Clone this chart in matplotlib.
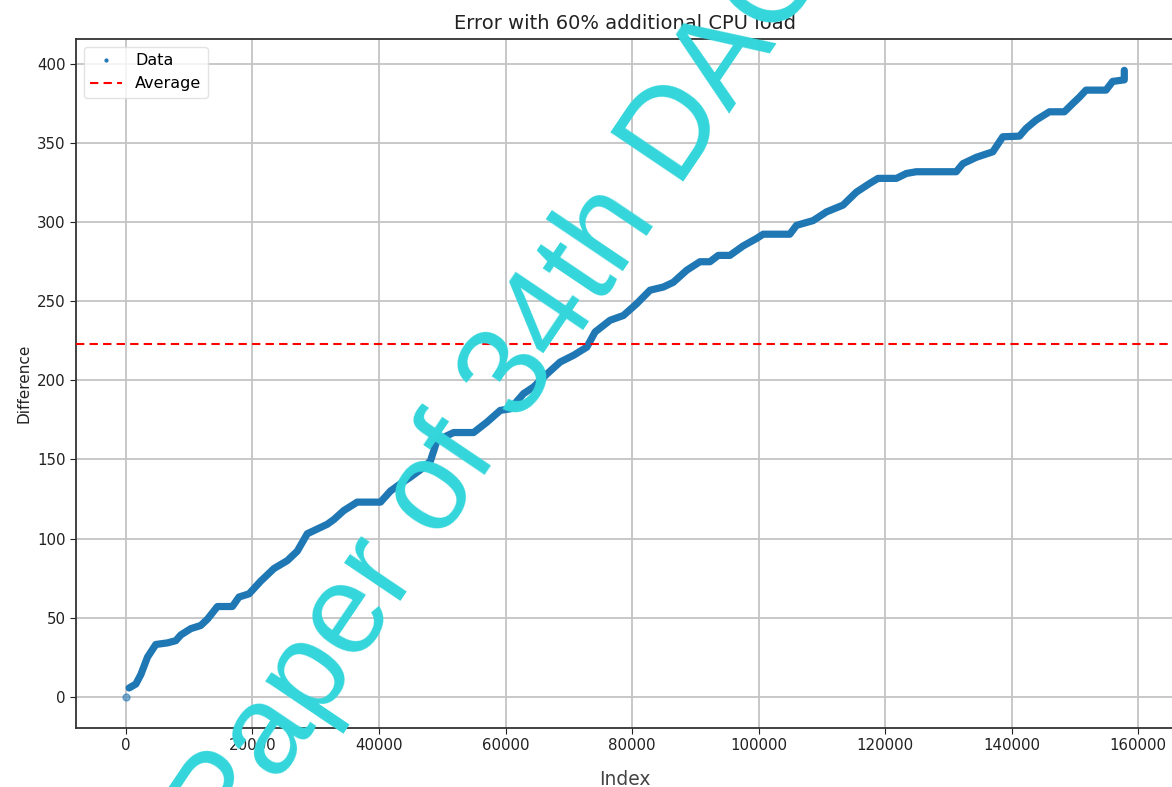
import matplotlib
matplotlib.use("Agg")
import matplotlib.pyplot as plt
from matplotlib.lines import Line2D

# Data (index, difference) along the staircase curve
index_vals = [0, 520, 1580, 2370, 3420, 4730, 6570, 7890, 8680, 10260, 11830, 12890,
              14470, 16830, 17880, 19460, 21300, 23400, 25510, 27090, 28670, 30250,
              31830, 32870, 34450, 36560, 40240, 41810, 43390, 44970, 47070, 48130,
              49180, 51810, 54960, 57070, 59170, 60750, 62850, 64430, 66540, 68640,
              70740, 72850, 74160, 76530, 78630, 80740, 82840, 84940, 86520, 88630,
              90730, 92310, 93620, 95460, 97560, 99670, 100720, 104930, 105980, 108610,
              110720, 113340, 115450, 117550, 118870, 121770, 123350, 124920, 131230,
              132280, 134390, 137010, 138590, 141220, 142280, 143860, 145960, 148320,
              149640, 150690, 151740, 154900, 155950, 157790, 157790]
diff_vals = [0, 5.5, 8, 14, 25, 33, 34, 35.4, 39, 43, 45, 49,
             57, 57, 63, 65, 73, 81, 86, 92, 103, 106,
             109, 112, 117.7, 123, 123, 130, 134.6, 138.8, 145, 149,
             162, 167, 167, 173.6, 181, 182, 191.6, 195.8, 204, 211.6,
             215.8, 221, 230.6, 238, 241, 248.5, 257, 259, 262, 269.6,
             275, 275, 279, 279, 285, 289.7, 292.4, 292.4, 298, 301,
             306.5, 310.8, 319, 324.5, 327.7, 327.7, 330.8, 331.9, 331.9,
             337, 341, 344.5, 354, 354.4, 359.3, 364.6, 369.8, 369.8,
             375, 379, 383.5, 383.5, 389, 390, 396]
average_val = 222.8

title = "Error with 60% additional CPU load"
xlabel = "Index"
ylabel = "Difference"
watermark = "Paper of 34th DAC"

fig = plt.figure(figsize=(11.72, 7.87), dpi=100)
ax = fig.add_axes([0.0648, 0.075, 0.9372, 0.8754])

blue = "#1f77b4"
ax.plot(index_vals[1:], diff_vals[1:], color=blue, lw=5.2,
        solid_joinstyle="round", solid_capstyle="round", zorder=3)
ax.plot(index_vals[:1], diff_vals[:1], "o", color=blue, ms=5, alpha=0.55, zorder=3)
ax.axhline(average_val, color="red", ls="--", lw=1.5, dashes=(4, 2.5), zorder=4)

ax.set_xlim(-7890, 165700)
ax.set_ylim(-19.8, 415.8)
ax.set_xticks([0, 20000, 40000, 60000, 80000, 100000, 120000, 140000, 160000])
ax.set_yticks([0, 50, 100, 150, 200, 250, 300, 350, 400])
ax.grid(True, color="#c4c4c4", lw=1.3)
ax.set_axisbelow(True)
ax.tick_params(labelsize=10.8, colors="#222222", length=4)
for s in ax.spines.values():
    s.set_linewidth(1.3)
    s.set_color("#333333")

ax.set_title(title, fontsize=14, color="#222222", pad=7)
ax.set_xlabel(xlabel, fontsize=13.5, color="#444444", labelpad=12)
ax.set_ylabel(ylabel, fontsize=11, color="#222222")

handles = [Line2D([], [], marker=".", ls="none", color=blue, ms=4),
           Line2D([], [], color="red", ls="--", lw=1.5, dashes=(4, 2.5))]
ax.legend(handles, ["Data", "Average"], loc="upper left", fontsize=11.5,
          framealpha=0.8, edgecolor="#dddddd")

fig.text(0.4513, 0.478, watermark, rotation=56, rotation_mode="anchor",
         ha="center", va="baseline", fontsize=92, color="#33d6db",
         family="Liberation Sans", zorder=10)

fig.savefig("out.png", dpi=100)
